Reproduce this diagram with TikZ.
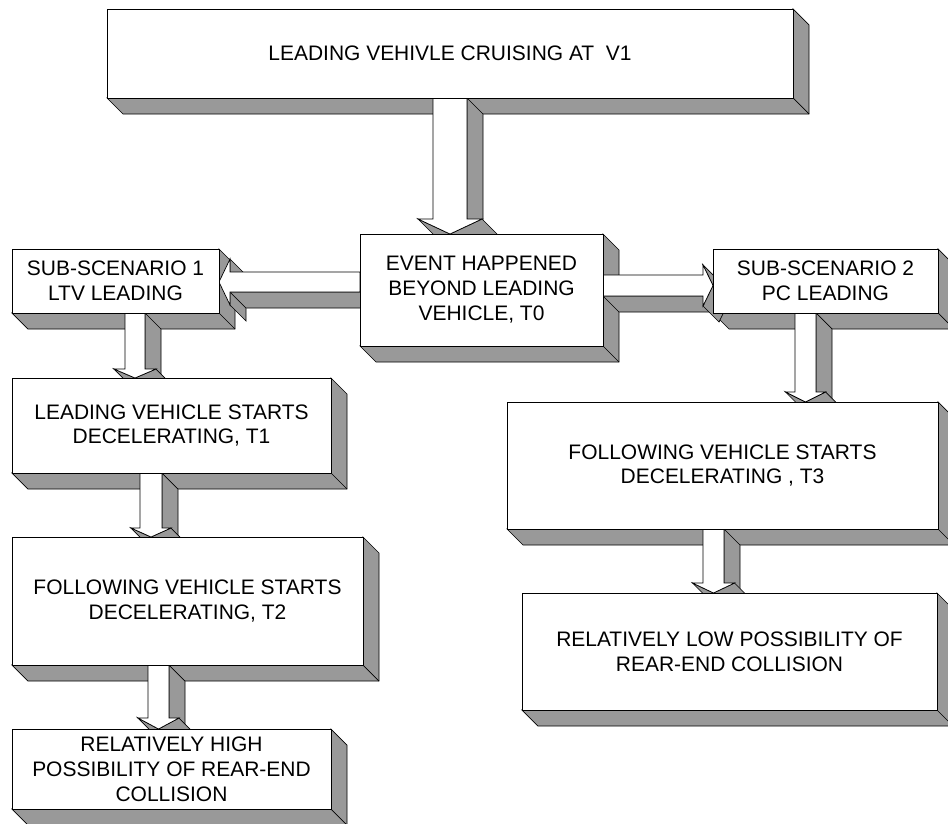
\documentclass[tikz,border=0pt]{standalone}
\usepackage{fontspec}
\setmainfont{Liberation Sans}
\usetikzlibrary{calc}

\definecolor{sidegray}{RGB}{153,153,153}
\pgfdeclarelayer{shade}
\pgfdeclarelayer{blocks}
\pgfsetlayers{shade,blocks,main}

\tikzset{
    box/.style 2 args={
        rectangle, draw=black, fill=white, line width=0.6pt,
        minimum width={#1*0.3mm}, minimum height={#2*0.3mm},
        inner sep=0pt, outer sep=0pt, align=center,
        font=\fontsize{17.9pt}{21.3pt}\selectfont
    },
    side/.style={draw=black, fill=sidegray, line width=0.6pt},
    face/.style={draw=black, fill=white, line width=0.6pt},
    edge/.style={draw=black, line width=0.6pt}
}

% 3D depth of a box (16px down-right)
\newcommand{\boxside}[1]{%
    \draw[side] (#1.north east) -- ++(16,16) -- ([shift={(16,16)}]#1.south east)
        -- ([shift={(16,16)}]#1.south west) -- (#1.south west) -- (#1.south east) -- cycle;
    \draw[edge] (#1.south east) -- ++(16,16);
}

% block arrow pointing down: from, to, x, shaft half width, head half width, head length
\newcommand{\dnarrow}[6]{%
    \path (#3,0) coordinate (arrx);
    \coordinate (arrbeg) at (arrx |- #1.south);
    \coordinate (arrtip) at (arrx |- #2.north);
    \draw[side] ($(arrbeg)+(#4,0)$) -- ++(16,16) -- ($(arrtip)+(#4+16,16-#6)$) -- ($(arrtip)+(#4,-#6)$) -- cycle;
    \draw[side] ($(arrtip)+(-#5,-#6)$) -- (arrtip) -- ++(16,16) -- ($(arrtip)+(16-#5,16-#6)$) -- cycle;
    \draw[side] ($(arrtip)+(#5,-#6)$) -- (arrtip) -- ++(16,16) -- ($(arrtip)+(#5+16,16-#6)$) -- cycle;
    \draw[face] ($(arrbeg)+(-#4,0)$) -- ($(arrtip)+(-#4,-#6)$) -- ($(arrtip)+(-#5,-#6)$) -- (arrtip)
        -- ($(arrtip)+(#5,-#6)$) -- ($(arrtip)+(#4,-#6)$) -- ($(arrbeg)+(#4,0)$) -- cycle;
}

% block arrow pointing right: from, to, y, shaft half width, head half width, head length
\newcommand{\rtarrow}[6]{%
    \path (0,#3) coordinate (arry);
    \coordinate (arrbeg) at (#1.east |- arry);
    \coordinate (arrtip) at (#2.west |- arry);
    \draw[side] ($(arrbeg)+(0,#4)$) -- ($(arrtip)+(-#6,#4)$) -- ($(arrtip)+(16-#6,#4+16)$) -- ($(arrbeg)+(16,#4+16)$) -- cycle;
    \draw[side] ($(arrtip)+(-#6,-#5)$) -- (arrtip) -- ++(16,16) -- ($(arrtip)+(16-#6,16-#5)$) -- cycle;
    \draw[side] ($(arrtip)+(-#6,#5)$) -- (arrtip) -- ++(16,16) -- ($(arrtip)+(16-#6,#5+16)$) -- cycle;
    \draw[face] ($(arrbeg)+(0,-#4)$) -- ($(arrtip)+(-#6,-#4)$) -- ($(arrtip)+(-#6,-#5)$) -- (arrtip)
        -- ($(arrtip)+(-#6,#5)$) -- ($(arrtip)+(-#6,#4)$) -- ($(arrbeg)+(0,#4)$) -- cycle;
}

% block arrow pointing left: from, to, y, shaft half width, head half width, head length
\newcommand{\ltarrow}[6]{%
    \path (0,#3) coordinate (arry);
    \coordinate (arrbeg) at (#1.west |- arry);
    \coordinate (arrtip) at (#2.east |- arry);
    \draw[side] ($(arrtip)+(#6,-#5)$) -- ($(arrtip)+(#6,-#4)$) -- ($(arrtip)+(#6+16,16-#4)$) -- ($(arrtip)+(#6+16,16-#5)$) -- cycle;
    \draw[side] ($(arrtip)+(#6,#4)$) -- ($(arrtip)+(#6,#5)$) -- ($(arrtip)+(#6+16,#5+16)$) -- ($(arrtip)+(#6+16,#4+16)$) -- cycle;
    \draw[side] ($(arrtip)+(#6,#4)$) -- ($(arrbeg)+(0,#4)$) -- ($(arrbeg)+(16,#4+16)$) -- ($(arrtip)+(#6+16,#4+16)$) -- cycle;
    \draw[face] ($(arrbeg)+(0,-#4)$) -- ($(arrtip)+(#6,-#4)$) -- ($(arrtip)+(#6,-#5)$) -- (arrtip)
        -- ($(arrtip)+(#6,#5)$) -- ($(arrtip)+(#6,#4)$) -- ($(arrbeg)+(0,#4)$) -- cycle;
}

\begin{document}
\begin{tikzpicture}[x=0.3mm, y=-0.3mm]
\useasboundingbox (0,0) rectangle (948,824);

% Scenario start
\node[box={686}{89}] (top) at (450,53.5) {LEADING VEHIVLE CRUISING AT \ V1};
\node[box={243}{112}] (event) at (481.5,290) {EVENT HAPPENED\\BEYOND LEADING\\VEHICLE, T0};

% Sub-scenarios
\node[box={207}{64}] (sub1) at (115.5,281) {SUB-SCENARIO 1\\LTV LEADING};
\node[box={225}{64}] (sub2) at (825.5,281) {SUB-SCENARIO 2\\PC LEADING};

% Sub-scenario 1 chain
\node[box={319}{95}] (lead1) at (171.5,425.5) {LEADING VEHICLE STARTS\\DECELERATING, T1};
\node[box={351}{128}] (follow2) at (187.5,601) {FOLLOWING VEHICLE STARTS\\DECELERATING, T2};
\node[box={319}{80}] (high) at (171.5,769) {RELATIVELY HIGH\\POSSIBILITY OF REAR-END\\COLLISION};

% Sub-scenario 2 chain
\node[box={431}{127}] (follow3) at (722.5,465.5) {FOLLOWING VEHICLE STARTS\\DECELERATING , T3};
\node[box={415}{117}] (low) at (729.5,651.5) {RELATIVELY LOW POSSIBILITY OF\\REAR-END COLLISION};

% Box depth
\begin{pgfonlayer}{shade}
\foreach \b in {top,event,sub1,sub2,lead1,follow2,high,follow3,low} {\boxside{\b}}
\end{pgfonlayer}

% Block arrows
\begin{pgfonlayer}{blocks}
\dnarrow{top}{event}{450}{17}{32}{15}
\ltarrow{event}{sub1}{282}{10}{23}{11}
\rtarrow{event}{sub2}{285.5}{10.5}{20.5}{10}
\dnarrow{sub1}{lead1}{135}{10}{21}{9}
\dnarrow{lead1}{follow2}{151}{11}{20}{9}
\dnarrow{follow2}{high}{158.5}{10.5}{20.5}{11}
\dnarrow{sub2}{follow3}{805.5}{10.5}{20}{10}
\dnarrow{follow3}{low}{713.5}{10.5}{21}{10}
\end{pgfonlayer}

\end{tikzpicture}
\end{document}
